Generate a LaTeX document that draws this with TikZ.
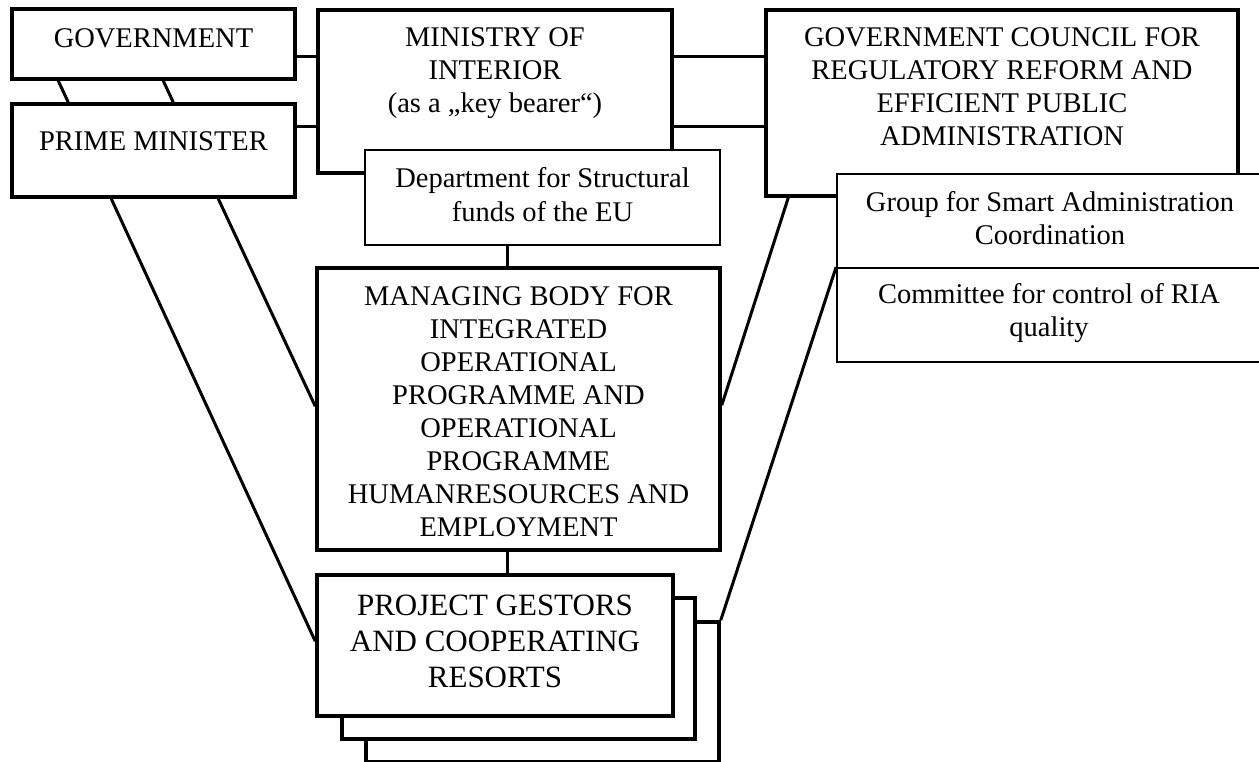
\documentclass[tikz,border=0pt]{standalone}
\usepackage{fontspec}
\setmainfont{Liberation Serif}
\usetikzlibrary{fit,calc}
\tikzset{
  thickbox/.style={draw=black, line width=3.5pt, fill=white, inner sep=0pt, rectangle},
  thinbox/.style={draw=black, line width=1.8pt, fill=white, inner sep=0pt, rectangle},
  conn/.style={draw=black, line width=3pt},
  lbl/.style={inner sep=0pt, align=center, anchor=base, font=\fontsize{28.5}{33}\selectfont},
  biglbl/.style={inner sep=0pt, align=center, anchor=base, font=\fontsize{31}{36}\selectfont}
}
\begin{document}
\begin{tikzpicture}[x=1pt,y=-1pt]
\clip (0,0) rectangle (1259,762);
\fill[white] (0,0) rectangle (1259,762);
% boxes
\node[thickbox, fit={(12,9) (295,79)}] (gov) {};
\node[thickbox, fit={(12,104) (295,197)}] (pm) {};
\node[thickbox, fit={(318,10) (672,173)}] (min) {};
\node[thinbox, fit={(365,150) (720,245)}] (dept) {};
\node[thickbox, fit={(766,10) (1238,196)}] (council) {};
\node[thinbox, fit={(837,174) (1263,268)}] (group) {};
\node[thinbox, fit={(837,268) (1263,362)}] (committee) {};
\node[thickbox, fit={(317,268) (720,550)}] (managing) {};
\node[thickbox, fit={(366,622) (719,762)}] (proj3) {};
\node[thickbox, fit={(342,598) (695,739)}] (proj2) {};
\node[thickbox, fit={(317,575) (673,716)}] (proj1) {};
% labels (anchor = baseline of the last line)
\node[lbl] (tgov) at (153.5,48) {GOVERNMENT};
\node[lbl] (tpm) at (153.5,151) {PRIME MINISTER};
\node[lbl] (tmin) at (495,113) {MINISTRY OF\\INTERIOR\\(as a „key bearer“)};
\node[lbl, font=\fontsize{28.5}{34}\selectfont] (tdept) at (542.5,222) {Department for Structural\\funds of the EU};
\node[lbl] (tcouncil) at (1002,146) {GOVERNMENT COUNCIL FOR\\REGULATORY REFORM AND\\EFFICIENT PUBLIC\\ADMINISTRATION};
\node[lbl] (tgroup) at (1050,245) {Group for Smart Administration\\Coordination};
\node[lbl] (tcomm) at (1049,336) {Committee for control of RIA\\quality};
\node[lbl] (tman) at (518.5,536) {MANAGING BODY FOR\\INTEGRATED\\OPERATIONAL\\PROGRAMME AND\\OPERATIONAL\\PROGRAMME\\HUMANRESOURCES AND\\EMPLOYMENT};
\node[biglbl] (tproj) at (495,687) {PROJECT GESTORS\\AND COOPERATING\\RESORTS};
% helper coordinates
\coordinate (g57) at ($(gov.east)+(0,13)$);
\coordinate (p127) at ($(pm.east)+(0,-23.5)$);
\coordinate (m57) at ($(min.east)+(0,-34.5)$);
\coordinate (m127) at ($(min.east)+(0,35.5)$);
\coordinate (d1) at ($(dept.south)+(-35.5,0)$);
\coordinate (mb) at ($(managing.south)+(-11.5,0)$);
% connectors
\draw[conn] ($(gov.south west)+(48,0)$) -- ($(pm.north west)+(58,0)$);
\draw[conn] ($(gov.south west)+(153,0)$) -- ($(pm.north west)+(163,0)$);
\draw[conn] (g57) -- (g57 -| min.west);
\draw[conn] (p127) -- (p127 -| min.west);
\draw[conn] (m57) -- (m57 -| council.west);
\draw[conn] (m127) -- (m127 -| council.west);
\draw[conn] (d1) -- (d1 |- managing.north);
\draw[conn] (mb) -- (mb |- proj1.north);
\draw[conn] ($(pm.south west)+(208,0)$) -- ($(managing.north west)+(0,140)$);
\draw[conn] ($(pm.south west)+(101,0)$) -- ($(proj1.north west)+(0,68)$);
\draw[conn] ($(council.south west)+(24,0)$) -- ($(managing.north east)+(0,139)$);
\draw[conn] (committee.north west) -- (proj3.north east);
\end{tikzpicture}
\end{document}
